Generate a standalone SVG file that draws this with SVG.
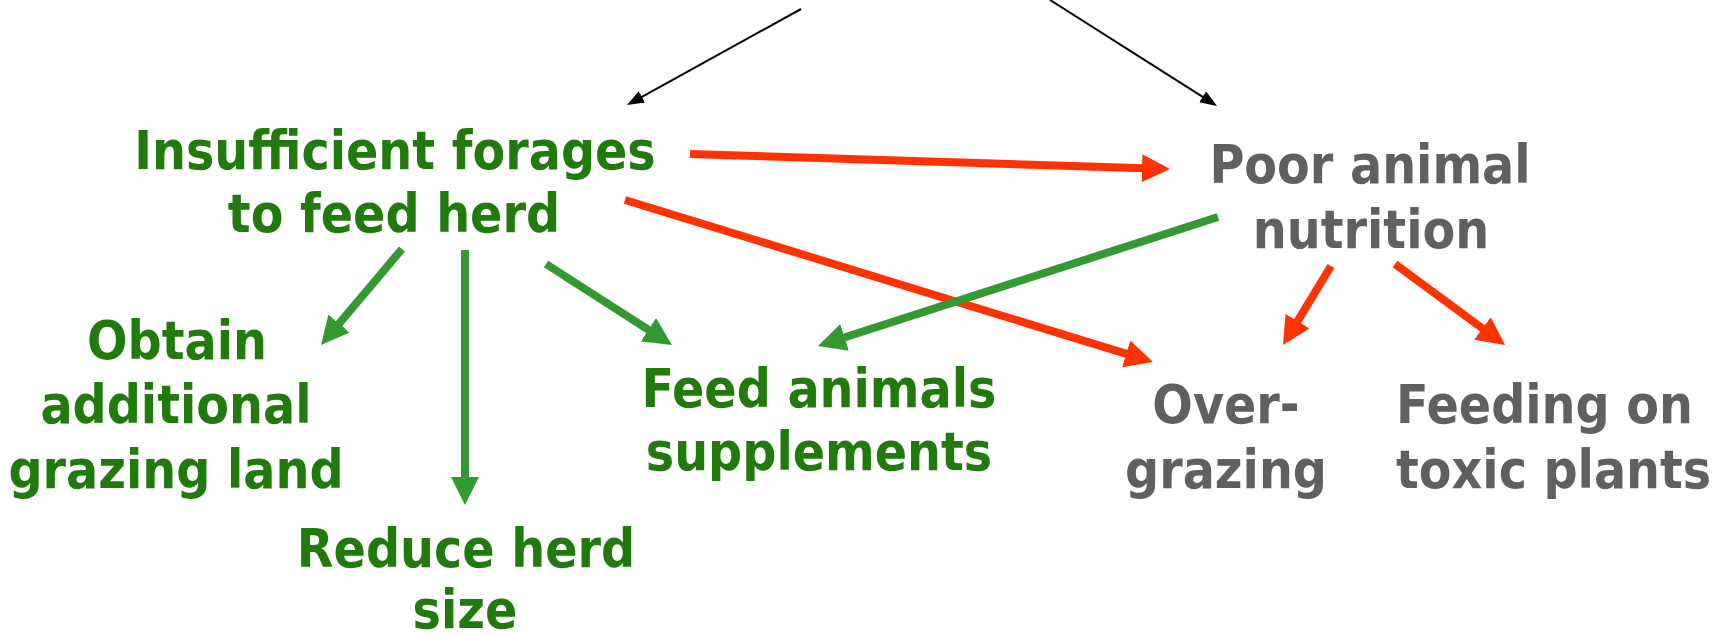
<svg xmlns="http://www.w3.org/2000/svg" width="1725" height="634" viewBox="0 0 1725 634">
<style>
.t{font-family:"DejaVu Sans Condensed","DejaVu Sans","Liberation Sans",sans-serif;font-weight:bold;font-size:53px;font-stretch:condensed;text-anchor:middle}
.g{fill:#217a0c}
.k{fill:#606060}
.s{text-anchor:start}
.red{stroke:#ff3300;stroke-width:8;fill:none}
.grn{stroke:#339933;stroke-width:8;fill:none}
.blk{stroke:#000;stroke-width:2;fill:none}
</style>
<defs>
<marker id="hr" markerUnits="userSpaceOnUse" markerWidth="28" markerHeight="28" viewBox="0 0 28 28" refX="2" refY="14" orient="auto"><path d="M0,0L28,14L0,28z" fill="#ff3300"/></marker>
<marker id="hg" markerUnits="userSpaceOnUse" markerWidth="28" markerHeight="28" viewBox="0 0 28 28" refX="2" refY="14" orient="auto"><path d="M0,0L28,14L0,28z" fill="#339933"/></marker>
<marker id="hb" markerUnits="userSpaceOnUse" markerWidth="17" markerHeight="13" viewBox="0 0 17 13" refX="1" refY="6.5" orient="auto"><path d="M0,0L17,6.5L0,13z" fill="#000"/></marker>
</defs>
<g id="connectors">
<line class="blk" x1="801" y1="9" x2="641" y2="97.3" marker-end="url(#hb)"/>
<line class="blk" x1="1050" y1="0" x2="1203.5" y2="97.4" marker-end="url(#hb)"/>
<line class="red" x1="690" y1="154" x2="1144" y2="168.2" marker-end="url(#hr)"/>
<line class="red" x1="625" y1="200" x2="1128.1" y2="354.4" marker-end="url(#hr)"/>
<line class="grn" x1="1218" y1="217" x2="842.7" y2="338" marker-end="url(#hg)"/>
<line class="red" x1="1331" y1="266" x2="1296.5" y2="322.8" marker-end="url(#hr)"/>
<line class="red" x1="1395" y1="264" x2="1484.1" y2="329.6" marker-end="url(#hr)"/>
<line class="grn" x1="402" y1="249" x2="337.8" y2="325.1" marker-end="url(#hg)"/>
<line class="grn" x1="465" y1="250" x2="465" y2="479" marker-end="url(#hg)"/>
<line class="grn" x1="546" y1="264" x2="650.1" y2="330.9" marker-end="url(#hg)"/>
</g>
<g id="insufficient"><text class="t g" x="395" y="169">Insufficient forages</text><text class="t g" x="394" y="232">to feed herd</text></g>
<g id="poor-nutrition"><text class="t k" x="1370" y="183">Poor animal</text><text class="t k" x="1371" y="248">nutrition</text></g>
<g id="obtain"><text class="t g" x="177" y="359">Obtain</text><text class="t g" x="176" y="423">additional</text><text class="t g" x="176" y="488">grazing land</text></g>
<g id="reduce"><text class="t g" x="466" y="567">Reduce herd</text><text class="t g" x="465" y="628">size</text></g>
<g id="feed"><text class="t g" x="819" y="407">Feed animals</text><text class="t g" x="819" y="470">supplements</text></g>
<g id="overgrazing"><text class="t k" x="1226" y="423">Over-</text><text class="t k" x="1226" y="488">grazing</text></g>
<g id="toxic"><text class="t k s" x="1396" y="423">Feeding on</text><text class="t k s" x="1396" y="488">toxic plants</text></g>
</svg>
